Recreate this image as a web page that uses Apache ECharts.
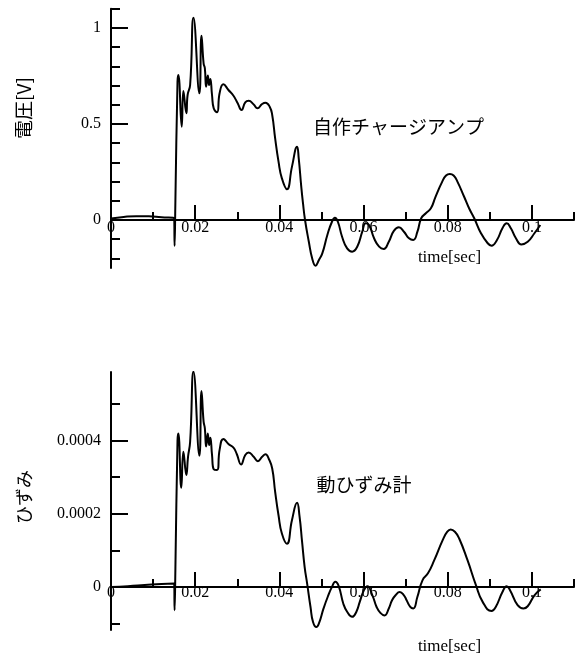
<!DOCTYPE html>
<html><head><meta charset="utf-8">
<script src="https://cdn.jsdelivr.net/npm/echarts@6/dist/echarts.min.js"></script>
<style>html,body{margin:0;padding:0;background:#fff}#c{width:579px;height:659px}</style>
</head><body><div id="c"></div>
<script>
// ---- Top chart: 自作チャージアンプ (voltage [V]) ----
const timeTop = [0,0.003,0.006,0.009,0.012,0.0150,0.0151,0.0153,0.0158,0.0160,0.0168,0.0172,0.0179,0.0182,0.0188,0.0196,0.0210,0.0215,0.0220,0.0223,0.0226,0.0230,0.0233,0.0236,0.0240,0.0244,0.0252,0.0258,0.0267,0.0279,0.0291,0.0301,0.0310,0.0319,0.0327,0.0339,0.0348,0.0359,0.0367,0.0377,0.0383,0.0390,0.0398,0.0406,0.0418,0.0430,0.0442,0.0446,0.0452,0.0456,0.0461,0.0470,0.0478,0.0486,0.0494,0.0502,0.0514,0.0525,0.0532,0.0539,0.0549,0.0561,0.0573,0.0585,0.0597,0.0605,0.0613,0.0625,0.0637,0.0648,0.0660,0.0672,0.0684,0.0696,0.0708,0.0718,0.0728,0.0737,0.0748,0.0760,0.0771,0.0787,0.0796,0.0805,0.0814,0.0823,0.0839,0.0851,0.0863,0.0879,0.0895,0.0904,0.0917,0.0930,0.0940,0.0950,0.0962,0.0975,0.0990,0.1006,0.1020];
const voltage = [0.008,0.016,0.020,0.019,0.014,0.010,-0.135,0.10,0.72,0.755,0.486,0.672,0.556,0.651,0.703,1.054,0.660,0.960,0.816,0.790,0.694,0.752,0.703,0.734,0.651,0.582,0.561,0.660,0.707,0.677,0.647,0.608,0.573,0.613,0.621,0.602,0.582,0.604,0.611,0.590,0.547,0.425,0.304,0.217,0.160,0.278,0.382,0.321,0.174,0.090,0.000,-0.113,-0.200,-0.238,-0.208,-0.174,-0.078,-0.009,0.012,-0.009,-0.087,-0.148,-0.165,-0.139,-0.061,-0.017,-0.026,-0.095,-0.139,-0.151,-0.113,-0.057,-0.038,-0.061,-0.095,-0.104,-0.061,0.009,0.035,0.061,0.121,0.200,0.232,0.240,0.232,0.200,0.121,0.060,0.009,-0.069,-0.121,-0.134,-0.104,-0.043,-0.017,-0.043,-0.095,-0.127,-0.113,-0.069,-0.026];

// ---- Bottom chart: 動ひずみ計 (strain) ----
const timeBottom = [0,0.004,0.008,0.012,0.0150,0.0151,0.0153,0.0158,0.0160,0.0167,0.0172,0.0179,0.0183,0.0188,0.0196,0.0210,0.0215,0.0220,0.0223,0.0226,0.0230,0.0233,0.0236,0.0240,0.0244,0.0252,0.0258,0.0267,0.0279,0.0291,0.0299,0.0309,0.0319,0.0327,0.0339,0.0349,0.0359,0.0367,0.0375,0.0383,0.0390,0.0398,0.0406,0.0418,0.0430,0.0442,0.0448,0.0454,0.0460,0.0466,0.0474,0.0480,0.0488,0.0494,0.0505,0.0515,0.0525,0.0533,0.0541,0.0552,0.0561,0.0573,0.0583,0.0591,0.0601,0.0609,0.0621,0.0631,0.0640,0.0650,0.0660,0.0668,0.0676,0.0686,0.0696,0.0702,0.0711,0.0718,0.0728,0.0740,0.0753,0.0768,0.0788,0.0799,0.0807,0.0817,0.0827,0.0847,0.0867,0.0883,0.0904,0.0914,0.0930,0.0940,0.0948,0.0966,0.0980,0.0990,0.1006,0.1021];
const strain = [0.000000,0.000002,0.000005,0.000008,0.000009,-0.000064,0.000050,0.000400,0.000420,0.000271,0.000370,0.000306,0.000356,0.000397,0.000589,0.000359,0.000536,0.000452,0.000434,0.000384,0.000420,0.000388,0.000408,0.000361,0.000322,0.000320,0.000375,0.000405,0.000391,0.000381,0.000363,0.000335,0.000361,0.000368,0.000356,0.000344,0.000356,0.000363,0.000350,0.000324,0.000260,0.000196,0.000146,0.000118,0.000183,0.000230,0.000192,0.000123,0.000055,0.000009,-0.000055,-0.000096,-0.000110,-0.000100,-0.000059,-0.000027,0.000000,0.000014,0.000002,-0.000046,-0.000068,-0.000082,-0.000068,-0.000041,-0.000009,0.000002,-0.000023,-0.000055,-0.000071,-0.000078,-0.000059,-0.000036,-0.000023,-0.000014,-0.000023,-0.000036,-0.000055,-0.000059,-0.000027,0.000018,0.000037,0.000073,0.000128,0.000151,0.000157,0.000151,0.000133,0.000073,0.000005,-0.000041,-0.000066,-0.000055,-0.000014,0.000002,-0.000009,-0.000050,-0.000059,-0.000053,-0.000023,-0.000007];

// ---- Tick values ----
const xLabelValues = [0,0.02,0.04,0.06,0.08,0.1];
const xMajorTicks = [0.02,0.04,0.06,0.08,0.1];
const xMinorTicks = [0.01,0.03,0.05,0.07,0.09,0.11];
const topYLabelValues = [0,0.5,1];
const topYMinorTicks = [-0.2,-0.1,0,0.1,0.2,0.3,0.4,0.5,0.6,0.7,0.8,0.9,1.0,1.1];
const botYLabelValues = [0,0.0002,0.0004];
const botYMinorTicks = [-0.0001,0,0.0001,0.0002,0.0003,0.0004,0.0005];

const serif = 'Liberation Serif';
const cjk = 'Noto Sans CJK JP';
const lineStyle = {color:'#000', width:2};

const H = 659;
const grids = [
  {left:111, right:5, top:8.8, bottom:391, yMin:-0.25, yMax:1.1, labelMargin:0},
  {left:111, right:5, top:372, bottom:29, yMin:-0.000118, yMax:0.000588, labelMargin:-2}
];
// shift x axis from the grid bottom up to the y=0 level
function zeroOffset(g){
  const h = H - g.top - g.bottom;
  return -h * (0 - g.yMin) / (g.yMax - g.yMin);
}

function xAxes(gridIndex){
  const g = grids[gridIndex];
  const off = zeroOffset(g);
  return [
    {type:'value', gridIndex, position:'bottom', offset:off, min:0, max:0.11,
     axisLine:{show:true, onZero:false, lineStyle},
     axisTick:{show:true, inside:true, length:8, lineStyle, customValues:xMinorTicks},
     axisLabel:{show:true, margin:g.labelMargin, color:'#000', fontFamily:serif, fontSize:16, customValues:xLabelValues,
       formatter:v=> v===0?'0':String(+v.toFixed(2))},
     splitLine:{show:false}},
    {type:'value', gridIndex, position:'bottom', offset:off, min:0, max:0.11,
     axisLine:{show:false, onZero:false},
     axisTick:{show:true, inside:true, length:15, lineStyle, customValues:xMajorTicks},
     axisLabel:{show:false}, splitLine:{show:false}}
  ];
}
function yAxes(gridIndex, minor, labels, major, fmt){
  const g = grids[gridIndex];
  return [
    {type:'value', gridIndex, position:'left', min:g.yMin, max:g.yMax,
     axisLine:{show:true, onZero:false, lineStyle},
     axisTick:{show:true, inside:true, length:9, lineStyle, customValues:minor},
     axisLabel:{show:true, margin:10, color:'#000', fontFamily:serif, fontSize:16, customValues:labels, formatter:fmt},
     splitLine:{show:false}},
    {type:'value', gridIndex, position:'left', offset:0, min:g.yMin, max:g.yMax,
     axisLine:{show:false, onZero:false},
     axisTick:{show:true, inside:true, length:17, lineStyle, customValues:major},
     axisLabel:{show:false}, splitLine:{show:false}}
  ];
}

const chart = echarts.init(document.getElementById('c'), null, {renderer:'canvas'});
chart.setOption({
  animation:false,
  backgroundColor:'#fff',
  grid:grids.map(g=>({left:g.left, right:g.right, top:g.top, bottom:g.bottom})),
  xAxis:[...xAxes(0), ...xAxes(1)],
  yAxis:[
    ...yAxes(0, topYMinorTicks, topYLabelValues, topYLabelValues, v=>String(v)),
    ...yAxes(1, botYMinorTicks, botYLabelValues, botYLabelValues, v=> v===0?'0':v.toFixed(4))
  ],
  series:[
    {type:'line', xAxisIndex:0, yAxisIndex:0, showSymbol:false, smooth:0.5,
     lineStyle:{color:'#000', width:2}, data:timeTop.map((t,i)=>[t, voltage[i]])},
    {type:'line', xAxisIndex:2, yAxisIndex:2, showSymbol:false, smooth:0.5,
     lineStyle:{color:'#000', width:2}, data:timeBottom.map((t,i)=>[t, strain[i]])}
  ],
  graphic:[
    {type:'text', x:23.5, y:108, rotation:Math.PI/2,
     style:{text:'電圧[V]', fontFamily:cjk, fontSize:19, fill:'#000', align:'center', verticalAlign:'middle'}},
    {type:'text', x:24.5, y:497, rotation:Math.PI/2,
     style:{text:'ひずみ', fontFamily:cjk, fontSize:18, fill:'#000', align:'center', verticalAlign:'middle'}},
    {type:'text', x:313, y:127,
     style:{text:'自作チャージアンプ', fontFamily:cjk, fontSize:19, fill:'#000', align:'left', verticalAlign:'middle'}},
    {type:'text', x:316.5, y:485,
     style:{text:'動ひずみ計', fontFamily:cjk, fontSize:19, fill:'#000', align:'left', verticalAlign:'middle'}},
    {type:'text', x:449.5, y:258,
     style:{text:'time[sec]', fontFamily:serif, fontSize:17, fill:'#000', align:'center', verticalAlign:'middle'}},
    {type:'text', x:449.5, y:647,
     style:{text:'time[sec]', fontFamily:serif, fontSize:17, fill:'#000', align:'center', verticalAlign:'middle'}}
  ]
});
</script>
</body></html>
